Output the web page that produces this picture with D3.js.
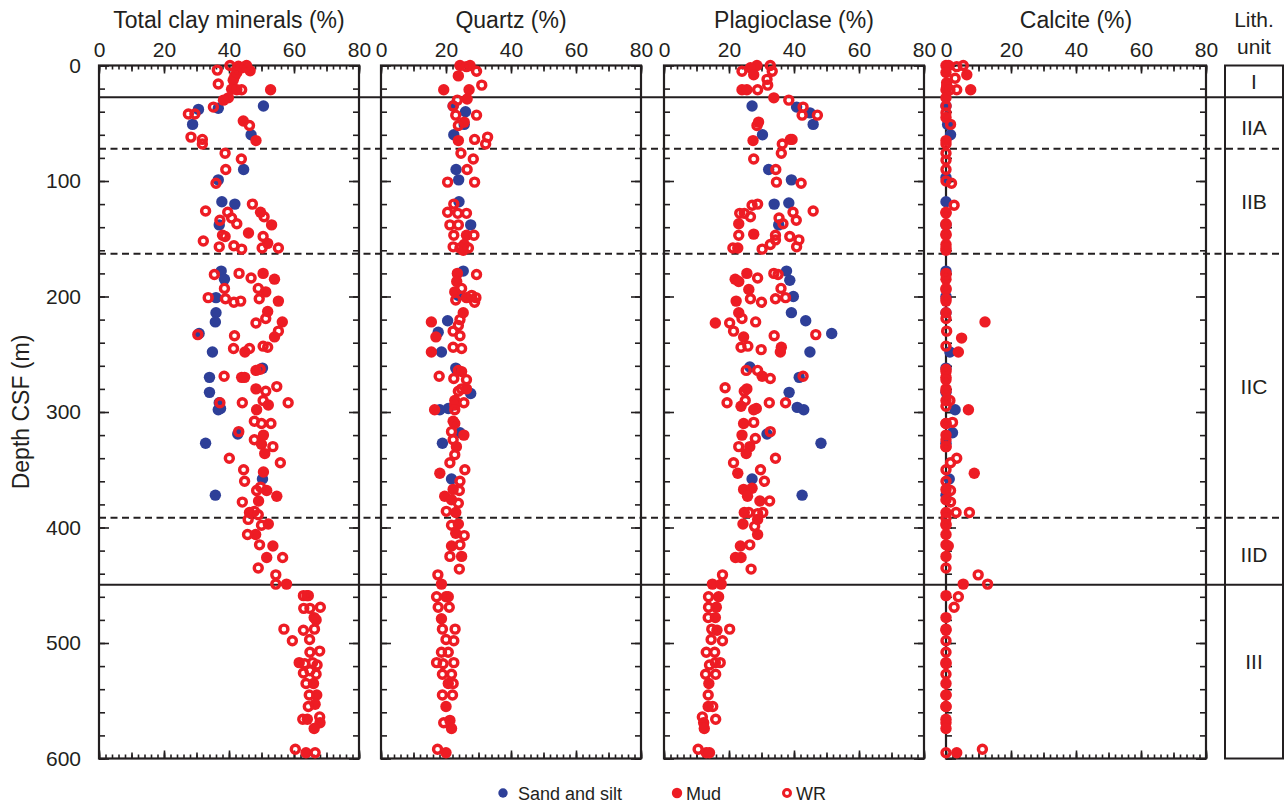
<!DOCTYPE html>
<html>
<head>
<meta charset="utf-8">
<script src="https://cdn.jsdelivr.net/npm/d3@7"></script>
<style>
  body { margin: 0; background: #fff; }
  text { font-family: "Liberation Sans", Arial, sans-serif; fill: #231f20; }
</style>
</head>
<body>
<div id="vis"></div>
<script>
// panel titles, one per mineral
const panelTitles = ['Total clay minerals (%)', 'Quartz (%)', 'Plagioclase (%)', 'Calcite (%)'];
const sampleTypes = ['Sand and silt', 'Mud', 'WR'];

// lithologic units and their boundaries (m CSF)
const lithUnits = ['I', 'IIA', 'IIB', 'IIC', 'IID', 'III'];
const lithBoundaries = [0, 27.5, 72, 163, 391.5, 449.5, 600];
const lithLabelDepths = [14, 54, 118, 278, 423, 516];
const boundaryIsUnit = [true, false, false, false, true]; // unit = solid, subunit = dashed

// [depth m, value %]
const claySand = [[35,50.6],[37,36.7],[38,30.6],[51,28.8],[60,46.8],[90,44.5],[99,36.7],[118,37.8],[120,41.8],[138,37],[178,37.6],[185,38.6],[201,36],[214,36],[222,35.8],[232,30.8],[248,34.9],[262,50.3],[270,34],[283,34],[292,37],[297,37.4],[298,36.7],[319,42.7],[327,32.8],[358,50.3],[372,35.8]];
const clayMud = [[0.6,42.9],[2,44],[4.6,46.5],[9,41.8],[12.7,41.3],[20.5,40.8],[21,42.4],[21,52.8],[28,39.8],[30,38.3],[48,44.4],[65,48.3],[127,49.7],[138,53.1],[145,46],[154,51.9],[180,50.5],[185,54],[196,51.3],[204,55.2],[213,51.9],[222,56.4],[235,54],[248,44.9],[264,48.3],[270,43.9],[270,44.8],[280,48.3],[294,52.1],[298,48.5],[320,50.6],[328,50],[336,51],[352,50.6],[368,51.6],[373,54.7],[377,49.1],[387,46.3],[397,52.1],[406,48.2],[416,53.5],[426,51.6],[449,57.7],[459,64],[478,66.2],[480,66.8],[517,61.6],[535,66],[545,67],[553,66.5],[566,64.1],[569,68],[574,66.2],[595,63.7]];
const clayWR = [[0,40.3],[0,45.4],[1,44.9],[4,36.4],[6,42.4],[16,36.7],[21,43.9],[36,35.2],[42,27.5],[42,29.5],[52,46.3],[62,28.3],[64,31.8],[68,31.8],[76,38.8],[81,43.8],[90,39],[102,36],[120,47.2],[126,32.8],[127,39.6],[131,50.8],[132,40.8],[134,37.2],[137,42.4],[147,38],[148,38.8],[148,50.5],[152,32.1],[156,41.5],[157,37],[158,50.2],[158,55.2],[159,43.9],[181,35.5],[180,43.1],[184,46.8],[193,38.6],[193,49],[201,33.6],[202,38.9],[205,41.5],[204,43.6],[202,49.3],[219,51.3],[223,48.3],[230,55.2],[233,30.4],[234,41.7],[245,41.4],[245,46.3],[243,50.5],[244,51.9],[263,49.6],[269,38.5],[278,54.7],[282,51.3],[292,37.2],[292,44.1],[290,50.5],[292,58.2],[308,47.8],[310,50],[310,52.9],[317,43],[324,47.8],[330,53.5],[340,40.1],[344,55.8],[350,44.5],[360,44.8],[365,49.7],[368,48.5],[378,44.1],[386,47.8],[389,49],[393,45.9],[398,50],[406,45.7],[415,49.4],[426,56.5],[435,49],[441,54.4],[449,54.4],[459,62.9],[459,64.4],[470,63],[470,64.9],[469,68.1],[488,66.3],[489,62.9],[488,56.9],[498,59.5],[497,64.8],[508,64.9],[507,67.9],[518,63.3],[519,67.1],[517,65.7],[526,62.9],[527,66.8],[524,64.9],[535,63.7],[545,64.7],[555,64.4],[566,62.7],[564,67.9],[592,60.4],[595,66.5]];

const quartzSand = [[35,22.2],[40,26],[51,25.6],[60,22.4],[90,23.1],[99,23.9],[118,24],[138,27.6],[178,25.3],[199,23.8],[221,20.5],[231,17.6],[248,18.6],[262,23],[284,27.6],[297,20.7],[298,18.1],[318,24.3],[327,18.9],[358,21.7]];
const quartzMud = [[0,24.3],[0,27.4],[9,23.8],[21,19.3],[21,27.1],[29,26.5],[49,25.6],[65,23.8],[147,26.3],[155,25.6],[160,25.3],[180,23.5],[187,23.3],[196,22.7],[201,26.3],[214,25.3],[222,15.5],[235,16.9],[248,15.5],[265,24.8],[280,26.3],[290,22.7],[294,22.7],[298,16.5],[308,22.2],[320,25.5],[330,23.2],[353,18.1],[367,22.2],[373,19.6],[376,21.7],[387,23],[397,23.8],[405,23],[416,21.7],[425,24.8],[449,18.6],[460,20],[479,18.6],[535,20.7],[555,20],[567,21.2],[574,21.7],[595,20]];
const quartzWR = [[1,26.3],[5,29.4],[17,31],[30,23.5],[35,22.2],[43,29.4],[43,23],[52,23.8],[64,28.8],[62,32.8],[68,32.2],[76,24.6],[81,28.4],[90,26.5],[101,20.5],[101,28.8],[120,22.4],[127,20.5],[128,26.3],[128,23.6],[138,21.2],[138,23.8],[147,22.4],[147,28.6],[157,22.2],[158,24.3],[158,26.9],[181,29.4],[193,24.8],[199,27.9],[201,29.2],[203,23],[205,28.8],[220,24.3],[225,23.8],[230,22.2],[234,24.3],[244,22.2],[245,24.8],[264,23.8],[269,17.9],[271,22.4],[272,26.3],[280,24.8],[282,23.8],[292,25.5],[298,22.7],[310,22.7],[317,21.7],[324,22.2],[337,22.7],[344,21.2],[350,25.8],[360,24.3],[368,24.1],[379,23.8],[386,20.1],[398,21.7],[407,25.6],[415,24.3],[425,21.2],[436,24.1],[441,17.5],[460,17.1],[460,20.7],[469,17.6],[469,21],[488,18.9],[488,22.8],[497,20],[498,22.4],[508,18.6],[508,20.7],[517,17.1],[518,19.1],[517,22.4],[527,18.9],[527,21.7],[535,22.2],[545,18.9],[545,22],[569,19.3],[592,17.4]];

const plagSand = [[35,27.1],[36,40.8],[41,44.9],[51,45.9],[60,30.3],[90,32.2],[99,39.2],[120,33.9],[119,38.4],[138,35.3],[178,37.7],[186,38.7],[200,39.8],[214,39.2],[221,43.6],[232,51.6],[248,44.9],[261,26.4],[270,41.6],[283,38.5],[296,41],[298,43],[319,31.7],[327,48.3],[358,27.1],[372,42.5]];
const plagMud = [[0,28.6],[2,26.6],[8,27.6],[21,24],[21,25.5],[28,33.8],[49,29.1],[65,27.4],[64,38.9],[137,23],[146,27.6],[158,22.7],[180,25.5],[185,21.9],[187,23],[194,26.1],[204,22.2],[214,23],[223,15.8],[235,24.5],[244,36.1],[248,35.8],[269,30.2],[280,25.5],[295,23.7],[298,27.6],[310,24.5],[320,24],[330,26.4],[336,25.3],[353,22.7],[367,24.5],[366,27.1],[373,25.7],[377,29.5],[387,24.7],[393,28.8],[397,24.3],[406,28.8],[416,23.5],[426,22],[426,23.7],[449,14.9],[449,17.6],[460,16.8],[469,16.1],[478,15.8],[489,16.3],[535,13.8],[555,13.6],[569,12.2],[574,12.4],[595,13],[595,14]];
const plagWR = [[0,32.7],[5,24],[5,33.3],[12,31.7],[17,31.9],[21,28.8],[30,38.4],[36,42.8],[43,42.5],[43,47.2],[52,28.6],[64,39.4],[68,36.4],[76,36.1],[81,27.6],[90,34.4],[101,34.6],[102,42.2],[121,27.1],[120,28.8],[126,45.9],[128,23.3],[128,24.7],[131,26.6],[127,39.7],[132,35.4],[134,40.7],[137,36.6],[147,23],[147,34.3],[148,38.7],[151,41.5],[151,34.3],[155,32.7],[158,21.2],[159,30.2],[157,40.8],[180,33.8],[181,35.1],[184,28.8],[193,36],[201,37.4],[202,34.3],[202,26.6],[205,30],[219,24],[223,20.2],[222,28.2],[230,21.4],[233,46.7],[234,33.9],[244,23.7],[243,25.8],[246,29.9],[264,25.3],[264,28.8],[271,32.7],[269,42.8],[279,18.8],[282,24.7],[292,19.4],[290,25],[292,32.4],[292,37.4],[297,28.4],[309,27.6],[317,32.7],[323,28.1],[330,23],[340,34.3],[344,21.4],[350,29.7],[360,30.9],[377,32.5],[387,26.1],[388,28.8],[387,30.4],[399,27.9],[415,26.4],[436,26.8],[441,18],[460,13.7],[469,13.7],[478,13.6],[488,14.7],[488,20.2],[497,14.5],[498,18],[508,13],[508,15.6],[519,14],[517,17.3],[517,15.8],[527,12.8],[527,15.9],[545,13.6],[555,15],[566,15.9],[564,11.8],[592,10.5]];

const calciteSand = [[35,0],[51,0.5],[60,1.4],[97,0],[118,0],[138,0],[178,0],[200,0],[214,0],[248,1.2],[262,0],[283,0],[298,2.8],[318,2],[327,0],[358,1],[372,0]];
const calciteMud = [[0,0],[0,0.8],[6,0],[8,6.4],[15,0.2],[21,0],[21,7.6],[28,0],[45,0],[65,0],[127,0],[138,0],[146,0],[155,0],[160,0],[180,0],[185,0],[194,0],[204,0],[214,0],[222,12],[236,4.8],[248,3.8],[265,0],[270,0],[280,0],[290,0],[298,6.9],[310,0],[320,0],[330,0],[353,8.7],[367,0],[376,0],[387,0],[397,0],[406,0],[416,0.7],[425,0],[449,5.3],[459,0],[478,0],[489,0],[517,0],[535,0],[545,0],[555,0],[566,0],[569,0],[574,0],[595,3.3]];
const calciteWR = [[0,5.3],[1,3.3],[11,2.8],[18,0.2],[21,3.3],[21,1.2],[35,0],[41,0],[51,1.4],[68,0],[76,0],[82,0],[90,0],[100,0],[102,1.7],[121,2.5],[128,0],[137,0],[147,0],[158,0],[181,0],[193,0],[202,0],[219,0],[230,0.2],[243,0],[263,0],[272,0],[282,0],[290,1.2],[295,0],[309,2],[310,0],[324,0],[330,0],[340,3.3],[344,1.4],[350,0],[360,0],[368,1.4],[378,1.4],[387,3.1],[387,7.2],[392,0],[398,0],[415,0],[435,0],[441,9.9],[449,12.8],[460,3.8],[469,2.5],[488,0],[498,0],[508,0],[518,0],[527,0],[545,0],[555,0],[592,11.2],[595,0]];

const panelData = [
  [claySand, clayMud, clayWR],
  [quartzSand, quartzMud, quartzWR],
  [plagSand, plagMud, plagWR],
  [calciteSand, calciteMud, calciteWR]
];

const width = 1288;
const height = 807;
const blue = '#2e3f98';
const red = '#ed1c24';
const ink = '#231f20';

const panelLefts = [99, 381, 664, 946];
const panelWidth = 260;
const lith = { x0: 1225, x1: 1283 };

const y = d3.scaleLinear().domain([0, 600]).range([65.5, 758.5]);

const svg = d3.select('#vis').append('svg')
  .attr('width', width)
  .attr('height', height);

// boundary lines run across every panel and the lith column
const boundaries = lithBoundaries.slice(1, -1);
svg.append('g').selectAll('line')
  .data(boundaries)
  .enter().append('line')
  .attr('x1', panelLefts[0]).attr('x2', lith.x1)
  .attr('y1', d => y(d)).attr('y2', d => y(d))
  .attr('stroke', ink)
  .attr('stroke-width', 2)
  .attr('stroke-dasharray', (d, i) => boundaryIsUnit[i] ? null : '7,4.5');

function styleAxis(g) {
  g.select('.domain').remove();
  g.selectAll('.tick line').attr('stroke', ink).attr('stroke-width', 1.6);
  g.selectAll('.tick text').style('font-size', '21px').attr('fill', ink);
}

panelTitles.forEach((title, i) => {
  const x0 = panelLefts[i];
  const x = d3.scaleLinear().domain([0, 80]).range([x0, x0 + panelWidth]);
  const g = svg.append('g');

  // x ticks top and bottom, inward
  [[d3.range(0, 81, 2), 4], [d3.range(0, 81, 10), 6], [d3.range(0, 81, 20), 8]].forEach(([vals, len], k) => {
    g.append('g').attr('transform', `translate(0,${y(0)})`)
      .call(d3.axisTop(x).tickValues(vals).tickSize(-len).tickPadding(9)
        .tickFormat(k === 2 ? d3.format('d') : ''))
      .call(styleAxis);
    g.append('g').attr('transform', `translate(0,${y(600)})`)
      .call(d3.axisBottom(x).tickValues(vals).tickSize(-len).tickFormat(''))
      .call(styleAxis);
  });

  // depth ticks left and right, inward
  [[d3.range(0, 601, 20), 6], [d3.range(0, 601, 100), 10]].forEach(([vals, len], k) => {
    g.append('g').attr('transform', `translate(${x0},0)`)
      .call(d3.axisLeft(y).tickValues(vals).tickSize(-len).tickPadding(len + 8)
        .tickFormat(k === 1 && i === 0 ? d3.format('d') : ''))
      .call(styleAxis);
    g.append('g').attr('transform', `translate(${x0 + panelWidth},0)`)
      .call(d3.axisRight(y).tickValues(vals).tickSize(-len).tickFormat(''))
      .call(styleAxis);
  });

  g.append('rect')
    .attr('x', x0).attr('y', y(0))
    .attr('width', panelWidth).attr('height', y(600) - y(0))
    .attr('fill', 'none').attr('stroke', ink).attr('stroke-width', 2.2);

  g.append('text')
    .attr('x', x0 + panelWidth / 2).attr('y', 28)
    .attr('text-anchor', 'middle')
    .style('font-size', '23px')
    .text(title);

  const [sand, mud, wr] = panelData[i];

  g.append('g').selectAll('circle')
    .data(sand).enter().append('circle')
    .attr('cx', d => x(d[1])).attr('cy', d => y(d[0]))
    .attr('r', 5.7).attr('fill', blue);

  g.append('g').selectAll('circle')
    .data(mud).enter().append('circle')
    .attr('cx', d => x(d[1])).attr('cy', d => y(d[0]))
    .attr('r', 5.7).attr('fill', red);

  g.append('g').selectAll('circle')
    .data(wr).enter().append('circle')
    .attr('cx', d => x(d[1])).attr('cy', d => y(d[0]))
    .attr('r', 4).attr('fill', 'none')
    .attr('stroke', red).attr('stroke-width', 3.4);
});

// y axis title
svg.append('text')
  .attr('transform', `translate(29,${(y(0) + y(600)) / 2}) rotate(-90)`)
  .attr('text-anchor', 'middle')
  .style('font-size', '23px')
  .text('Depth CSF (m)');

// lith unit column
svg.append('rect')
  .attr('x', lith.x0).attr('y', y(0))
  .attr('width', lith.x1 - lith.x0).attr('height', y(600) - y(0))
  .attr('fill', 'none').attr('stroke', ink).attr('stroke-width', 2);

svg.append('text')
  .attr('text-anchor', 'middle')
  .style('font-size', '21px')
  .selectAll('tspan')
  .data(['Lith.', 'unit'])
  .enter().append('tspan')
  .attr('x', (lith.x0 + lith.x1) / 2)
  .attr('y', (d, i) => 27 + i * 27)
  .text(d => d);

svg.append('g').selectAll('text')
  .data(lithUnits)
  .enter().append('text')
  .attr('x', (lith.x0 + lith.x1) / 2)
  .attr('y', (d, i) => y(lithLabelDepths[i]))
  .attr('dy', '0.36em')
  .attr('text-anchor', 'middle')
  .style('font-size', '21px')
  .text(d => d);

// legend
const legend = svg.append('g').attr('transform', 'translate(0,793)');
const legendX = [503, 677, 787];
sampleTypes.forEach((name, i) => {
  const c = legend.append('circle').attr('cx', legendX[i]).attr('cy', 0);
  if (i === 0) c.attr('r', 4.7).attr('fill', blue);
  if (i === 1) c.attr('r', 5.2).attr('fill', red);
  if (i === 2) c.attr('r', 3.5).attr('fill', 'none').attr('stroke', red).attr('stroke-width', 3);
  legend.append('text')
    .attr('x', legendX[i] + (i === 0 ? 15 : 9))
    .attr('y', 7)
    .style('font-size', '18px')
    .text(name);
});
</script>
</body>
</html>
